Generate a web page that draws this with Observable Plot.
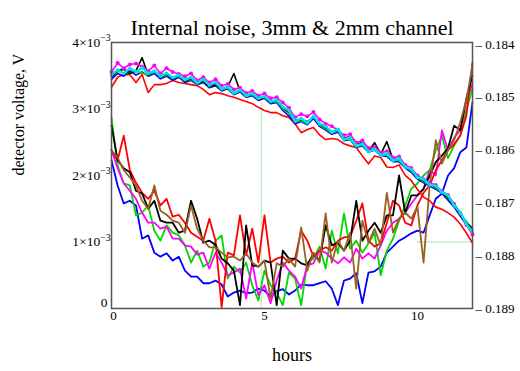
<!DOCTYPE html>
<html><head><meta charset="utf-8">
<script src="https://cdn.jsdelivr.net/npm/d3@7"></script>
<script src="https://cdn.jsdelivr.net/npm/@observablehq/plot@0.6"></script>
<style>body{margin:0;background:#fff;}</style>
</head><body><div id="chart"></div>
<script>
// time axis (hours)
const hours = [0,0.2,0.4,0.6,0.8,1.0,1.2,1.4,1.6,1.8,2.0,2.2,2.4,2.6,2.8,3.0,3.2,3.4,3.6,3.8,
  4.0,4.2,4.4,4.6,4.8,5.0,5.2,5.4,5.6,5.8,6.0,6.2,6.4,6.6,6.8,7.0,7.2,7.4,7.6,7.8,
  8.0,8.2,8.4,8.6,8.8,9.0,9.2,9.4,9.6,9.8,10.0,10.2,10.4,10.6,10.8,11.0,11.2,11.4,11.6,11.8];

// lower group, left axis, units of 1e-3 V
const lowerBlue = [2.23,1.85,1.58,1.62,1.55,1.05,1.10,0.84,0.78,0.83,0.72,0.78,0.57,0.48,0.48,0.38,0.38,0.42,0.36,0.18,
  0.24,0.27,0.23,0.24,0.30,0.27,0.18,0.26,0.29,0.21,0.27,0.36,0.35,0.35,0.38,0.41,0.30,0.05,0.42,0.45,
  0.53,0.08,0.54,0.56,0.63,0.84,0.93,1.02,1.07,1.13,1.17,1.14,1.40,1.65,1.73,2.00,2.11,2.35,2.42,3.10];
const lowerGreen = [2.87,2.15,1.88,1.85,1.40,1.44,1.55,1.17,1.02,1.25,1.14,1.10,0.95,0.69,0.87,0.63,0.69,1.02,1.10,0.45,
  0.63,0.54,0.69,0.35,0.12,0.57,0.35,0.24,0.05,0.54,0.45,0.05,0.69,0.75,0.93,0.60,1.17,0.83,1.43,0.90,
  1.02,0.84,0.98,1.14,0.50,0.87,1.05,1.32,1.55,1.80,1.88,2.00,2.08,2.38,2.60,2.26,2.45,2.60,2.98,3.31];
const lowerMagenta = [2.38,2.11,1.88,1.77,1.65,1.44,1.29,1.29,1.20,1.23,1.05,1.05,0.95,0.93,0.81,0.84,0.60,0.84,0.69,0.50,
  0.54,0.60,0.15,0.69,0.20,0.35,0.08,0.42,0.69,0.57,0.48,0.30,0.65,0.68,0.87,0.84,0.75,0.68,0.77,0.69,
  0.90,0.75,0.83,0.75,0.95,1.17,1.29,1.35,1.44,1.58,1.70,1.80,2.08,2.00,2.68,2.38,2.57,2.68,3.13,3.38];
const lowerRed = [2.38,2.23,2.60,2.08,1.89,1.74,1.65,1.77,1.55,1.65,1.38,1.41,1.29,1.14,1.08,1.02,1.35,1.02,0.02,0.84,
  0.80,1.40,0.80,1.20,0.69,1.40,0.69,0.75,0.78,0.69,0.75,1.17,1.02,0.78,0.87,0.92,0.87,1.02,1.07,1.08,
  1.32,1.58,1.02,0.93,0.98,1.29,1.62,1.55,1.29,1.25,1.55,1.74,1.85,2.08,2.23,2.38,2.47,2.60,2.90,3.70];
const lowerBlack = [2.75,2.23,2.11,2.05,1.77,1.73,1.50,1.62,1.32,1.29,1.29,1.14,1.17,1.62,1.35,0.99,1.02,0.96,0.75,0.68,
  0.57,0.05,1.25,0.65,0.63,0.72,0.69,0.05,0.87,0.75,0.75,0.68,0.65,0.83,0.72,1.25,0.95,0.99,0.87,1.02,
  1.62,1.02,1.17,1.29,1.14,1.40,1.40,2.00,1.44,1.70,1.70,1.80,2.00,2.20,2.30,2.41,2.75,2.68,3.16,3.50];
const lowerBrown = [2.38,2.27,2.08,1.97,1.85,1.62,1.50,1.85,1.47,1.41,1.32,1.29,1.14,1.55,1.20,1.02,0.92,0.92,0.84,0.77,
  0.78,0.72,0.83,0.69,0.63,0.72,0.15,0.68,0.63,0.75,0.63,1.22,0.57,0.84,0.69,1.43,0.69,1.02,0.87,1.14,
  0.30,1.32,0.99,1.20,0.95,1.74,1.14,1.35,1.44,1.35,1.53,0.69,1.85,2.53,2.18,2.38,2.53,2.80,3.13,3.65];

// upper group, right axis, mV
const upperRed = [-184.81,-184.62,-184.57,-184.57,-184.72,-184.57,-184.91,-184.76,-184.76,-184.74,
  -184.68,-184.72,-184.74,-184.76,-184.78,-184.85,-184.95,-184.91,-184.93,-184.97,
  -185.00,-185.04,-185.08,-185.12,-185.19,-185.25,-185.29,-185.29,-185.35,-185.38,
  -185.50,-185.67,-185.61,-185.57,-185.71,-185.80,-185.78,-185.80,-185.88,-185.92,
  -185.95,-186.11,-186.26,-186.11,-186.14,-186.32,-186.33,-186.28,-186.48,-186.58,
  -186.74,-186.89,-186.96,-187.08,-187.12,-187.19,-187.27,-187.40,-187.57,-187.76];
const upperBlue = [-184.66,-184.55,-184.60,-184.50,-184.58,-184.52,-184.60,-184.55,-184.65,-184.60,
  -184.68,-184.62,-184.72,-184.68,-184.76,-184.72,-184.82,-184.78,-184.88,-184.84,
  -184.95,-184.90,-185.00,-184.97,-185.06,-185.02,-185.12,-185.10,-185.25,-185.35,
  -185.50,-185.46,-185.52,-185.40,-185.55,-185.62,-185.70,-185.66,-185.82,-185.80,
  -185.95,-185.92,-186.04,-186.00,-186.10,-186.12,-186.22,-186.22,-186.34,-186.42,
  -186.55,-186.62,-186.68,-186.74,-186.82,-186.95,-187.08,-187.25,-187.42,-187.55];
const upperGreen = [-184.60,-184.52,-184.48,-184.56,-184.50,-184.54,-184.58,-184.52,-184.62,-184.58,
  -184.64,-184.60,-184.70,-184.66,-184.74,-184.70,-184.80,-184.76,-184.86,-184.82,
  -184.94,-184.88,-184.98,-184.95,-185.04,-185.00,-185.10,-185.08,-185.22,-185.30,
  -185.46,-185.44,-185.50,-185.34,-185.52,-185.60,-185.68,-185.64,-185.78,-185.80,
  -185.94,-185.90,-186.00,-185.95,-186.06,-186.10,-186.18,-186.20,-186.30,-186.40,
  -186.50,-186.60,-186.65,-186.72,-186.78,-186.92,-187.00,-187.22,-187.35,-187.50];
const upperBlack = [-184.62,-184.50,-184.46,-184.55,-184.50,-184.25,-184.58,-184.50,-184.62,-184.56,
  -184.65,-184.60,-184.70,-184.64,-184.74,-184.70,-184.80,-184.76,-184.85,-184.80,
  -184.55,-184.88,-184.98,-184.94,-185.04,-185.00,-185.10,-185.06,-185.20,-185.28,
  -185.44,-185.42,-185.46,-185.38,-185.50,-185.58,-185.66,-185.62,-185.78,-185.74,
  -185.90,-185.85,-186.02,-185.86,-186.08,-185.84,-186.18,-186.15,-186.30,-186.38,
  -186.50,-186.58,-186.64,-186.70,-186.80,-186.90,-187.05,-187.22,-187.38,-187.48];
const upperMagenta = [-184.52,-184.35,-184.45,-184.38,-184.36,-184.42,-184.50,-184.40,-184.55,-184.45,
  -184.52,-184.56,-184.60,-184.55,-184.68,-184.62,-184.72,-184.66,-184.78,-184.75,
  -184.85,-184.82,-184.92,-184.88,-184.97,-184.93,-185.02,-185.00,-185.10,-185.20,
  -185.38,-185.32,-185.36,-185.28,-185.42,-185.50,-185.55,-185.62,-185.72,-185.70,
  -185.86,-185.82,-185.96,-185.94,-186.05,-186.02,-186.14,-186.12,-186.28,-186.34,
  -186.48,-186.55,-186.62,-186.66,-186.78,-186.85,-187.02,-187.20,-187.42,-187.60];
const upperCyan = [-184.58,-184.48,-184.55,-184.45,-184.52,-184.44,-184.55,-184.50,-184.60,-184.54,
  -184.63,-184.58,-184.67,-184.62,-184.73,-184.66,-184.77,-184.72,-184.84,-184.80,
  -184.92,-184.86,-184.97,-184.93,-185.02,-184.98,-185.08,-185.05,-185.18,-185.25,
  -185.45,-185.40,-185.48,-185.36,-185.50,-185.55,-185.66,-185.60,-185.80,-185.76,
  -185.92,-185.88,-186.03,-185.98,-186.10,-186.06,-186.20,-186.16,-186.32,-186.36,
  -186.52,-186.55,-186.66,-186.68,-186.80,-186.86,-187.05,-187.18,-187.40,-187.55];

// axes
const leftTicks = [0, 1, 2, 3, 4];
const rightTicks = [-184, -185, -186, -187, -188, -189];
const xTicks = [0, 5, 10];
const cursorV = [{h: 4.9, v0: 0, v1: 3.1}];
const cursorH = [{v: 1.0, h0: 10.0, h1: 11.8}];

const RIGHT_TOP = 3.97;
const toLeft = m => (m + 189) / 5 * RIGHT_TOP;
const fromLeft = v => v / RIGHT_TOP * 5 - 189;

const rows = s => hours.map((h, i) => ({h, v: s[i]}));
const rowsR = s => hours.map((h, i) => ({h, v: toLeft(s[i])}));

const lowerSeries = [["#0000ff", lowerBlue], ["#00d800", lowerGreen], ["#ff00ff", lowerMagenta],
  ["#ff0000", lowerRed], ["#000000", lowerBlack], ["#9a5f22", lowerBrown]];
const upperSeries = [["#ff0000", upperRed], ["#0000ff", upperBlue], ["#00d800", upperGreen],
  ["#000000", upperBlack], ["#ff00ff", upperMagenta]];

const font = "Liberation Serif, Times New Roman, serif";
const titleText = "Internal noise, 3mm & 2mm channel";

const plot = Plot.plot({
  width: 520, height: 371,
  marginLeft: 111, marginRight: 48, marginTop: 42, marginBottom: 63,
  style: {fontFamily: font, background: "#fff"},
  x: {domain: [0, 11.8]},
  y: {domain: [0, 4]},
  marks: [
    Plot.ruleX(cursorV, {x: "h", y1: "v0", y2: "v1", stroke: "#c6ecc6", strokeWidth: 1.5}),
    Plot.ruleY(cursorH, {y: "v", x1: "h0", x2: "h1", stroke: "#c6ecc6", strokeWidth: 1.5}),
    ...lowerSeries.map(([c, s]) => Plot.line(rows(s), {x: "h", y: "v", stroke: c, strokeWidth: 1.8})),
    ...upperSeries.map(([c, s]) => Plot.line(rowsR(s), {x: "h", y: "v", stroke: c, strokeWidth: 1.6})),
    Plot.dot(rowsR(upperMagenta), {x: "h", y: "v", fill: "#ff00ff", r: 2}),
    Plot.line(rowsR(upperCyan), {x: "h", y: "v", stroke: "#00e0e0", strokeWidth: 2.6, strokeDasharray: "5,2"}),
    Plot.dot(rowsR(upperCyan), {x: "h", y: "v", fill: "#00e0e0", r: 1.6}),
    Plot.frame({stroke: "#555", strokeWidth: 1.5}),
    Plot.axisY(leftTicks, {anchor: "left", tickSize: 0, tickPadding: 1, fontSize: 13.5,
      tickFormat: d => d === 0 ? "0" : `${d}×10`}),
    Plot.axisY(rightTicks.map(toLeft), {anchor: "right", tickSize: 0, tickPadding: 3, fontSize: 13,
      tickFormat: d => "– " + (Math.round(-fromLeft(d)) / 1000).toFixed(3)}),
    Plot.axisX(xTicks, {anchor: "bottom", tickSize: 0, tickPadding: 2, fontSize: 13}),
    Plot.text([titleText], {frameAnchor: "top", dy: -22, fontSize: 20}),
    Plot.text(["detector voltage, V"], {frameAnchor: "left", rotate: -90, dx: -93, fontSize: 16}),
    Plot.text(["hours"], {frameAnchor: "bottom", dy: 52, fontSize: 18})
  ]
});

const svg = d3.select(plot);
svg.selectAll("text").each(function() {
  const t = d3.select(this);
  if (t.text().endsWith("×10")) {
    t.append("tspan").attr("dy", "-0.55em").attr("font-size", "0.72em").text("−3");
  }
  if (t.text() === titleText) {
    t.attr("textLength", 323).attr("lengthAdjust", "spacingAndGlyphs");
  }
});
const nudge = (sel, dx, dy) => sel.each(function() {
  const t = d3.select(this);
  if (t.text() === "0") t.attr("transform", (t.attr("transform") || "") + ` translate(${dx},${dy})`);
});
nudge(svg.selectAll('g[aria-label="y-axis tick label"] text'), -3, -6);
nudge(svg.selectAll('g[aria-label="x-axis tick label"] text'), 2, 0);

document.getElementById("chart").appendChild(plot);
</script>
</body></html>
